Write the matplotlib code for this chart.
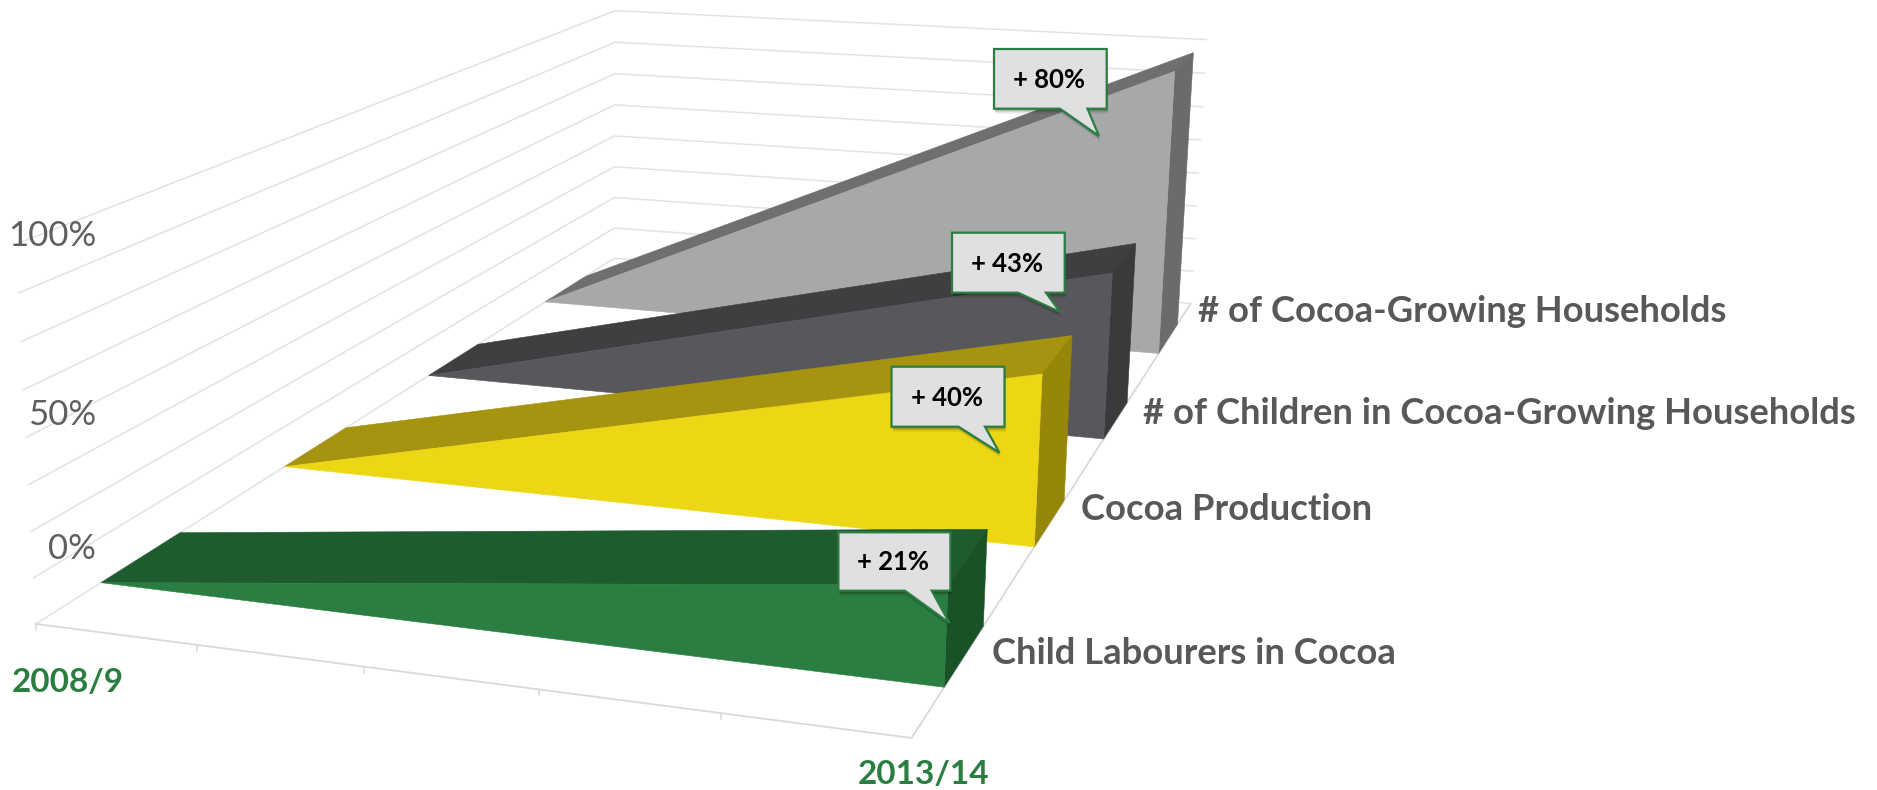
import numpy as np
import matplotlib
matplotlib.use("Agg")
import matplotlib.pyplot as plt
from matplotlib.patches import Polygon

# ---------- data ----------
years = ["2008/9", "2013/14"]
year_positions = [0, 5]
series_names = ["Child Labourers in Cocoa", "Cocoa Production",
                "# of Children in Cocoa-Growing Households", "# of Cocoa-Growing Households"]
start_values = [0, 0, 0, 0]
end_values = [21, 40, 43, 80]
callout_labels = ["+ 21%", "+ 40%", "+ 43%", "+ 80%"]
axis_labels = ["0%", "50%", "100%"]
grid_levels = [0, 10, 20, 30, 40, 50, 60, 70, 80]
n_periods = 5
n_series = 4

# ---------- style ----------
front_colors = ["#2b7e41", "#ecd715", "#58585c", "#a7a8aa"]
top_colors = ["#1e5b2f", "#a6930f", "#3f3f41", "#6e706f"]
end_colors = ["#1a5228", "#968609", "#3a3a3c", "#696b6d"]
band_depth = 0.40
grid_color = "#e2e2e2"
axis_color = "#d9d9d9"
text_gray = "#58585a"
green = "#2b7e41"

# ---------- camera: chart space (period, series, percent) -> picture pixels ----------
cam_world = np.array([[0, 0, 0], [1, 0, 0], [1, 1, 0], [0, 1, 0],
                      [0, 0, 1], [0, 1, 1], [1, 1, 1]], float)
cam_pixel = np.array([[36, 625], [911, 738], [1190.6, 303], [614.5, 258],
                      [16, 243], [614.5, 11], [1207, 40]], float)
rows = []
for (X, Y, Z), (u, v) in zip(cam_world, cam_pixel):
    rows.append([X, Y, Z, 1, 0, 0, 0, 0, -u * X, -u * Y, -u * Z, -u])
    rows.append([0, 0, 0, 0, X, Y, Z, 1, -v * X, -v * Y, -v * Z, -v])
_, _, vt = np.linalg.svd(np.array(rows))
CAM = vt[-1].reshape(3, 4)


def project(period, series, pct):
    p = CAM @ np.array([period / n_periods, series / n_series, pct / 80.0, 1.0])
    return p[0] / p[2], p[1] / p[2]


plt.rcParams["font.family"] = ["Lato", "DejaVu Sans"]
fig = plt.figure(figsize=(18.77, 7.90), dpi=100, facecolor="white")
ax = fig.add_axes([0, 0, 1, 1])
ax.set_xlim(0, 1877)
ax.set_ylim(790, 0)
ax.axis("off")

# ---------- walls and floor ----------
for lv in grid_levels:
    pts = [project(0, 0, lv), project(0, n_series, lv), project(n_periods, n_series, lv)]
    ax.plot(*zip(*pts), color=grid_color, lw=1.1, zorder=1)
pts = [project(0, 0, 0), project(n_periods, 0, 0), project(n_periods, n_series, 0)]
ax.plot(*zip(*pts), color=axis_color, lw=1.3, zorder=1)
for t in range(n_periods):
    x, y = project(t, 0, 0)
    ax.plot([x, x], [y, y + 6], color=axis_color, lw=1.1, zorder=1)

# ---------- prisms, back to front ----------
for i in reversed(range(n_series)):
    d0 = i + 0.5 - band_depth / 2
    d1 = i + 0.5 + band_depth / 2
    x0, x1 = year_positions
    v0, v1 = start_values[i], end_values[i]
    z = 10 + (n_series - i)
    top = [project(x0, d0, v0), project(x1, d0, v1), project(x1, d1, v1), project(x0, d1, v0)]
    end = [project(x1, d0, 0), project(x1, d0, v1), project(x1, d1, v1), project(x1, d1, 0)]
    front = [project(x0, d0, 0), project(x1, d0, 0), project(x1, d0, v1), project(x0, d0, v0)]
    for poly, col in ((top, top_colors[i]), (end, end_colors[i]), (front, front_colors[i])):
        ax.add_patch(Polygon(poly, closed=True, fc=col, ec=col, lw=0.4, zorder=z))

# ---------- callouts ----------
callout_boxes = [(838.4, 532.3, 950.4, 590.7, 905, 931.7, 949.5, 623),
                 (891.5, 366.7, 1004.5, 426.7, 958.5, 985, 999.5, 452.7),
                 (952, 232.7, 1064.7, 292.7, 1018, 1046, 1060, 312),
                 (994, 49, 1106.7, 108.7, 1060, 1087.5, 1099, 136)]
for lab, (l, t, r, b, ta, tb, tx, ty) in zip(callout_labels, callout_boxes):
    outline = [(l, t), (r, t), (r, b), (tb, b), (tx, ty), (ta, b), (l, b)]
    for k, a in ((5, 0.07), (3.5, 0.12), (2, 0.18)):
        shadow = [(px + k * 0.3, py + k) for px, py in outline]
        ax.add_patch(Polygon(shadow, closed=True, fc="black", ec="none", alpha=a, zorder=30))
    ax.add_patch(Polygon(outline, closed=True, fc="#e0e0e0", ec=green, lw=1.6, zorder=31,
                         joinstyle="miter"))
    ax.text((l + r) / 2 - 1, (t + b) / 2 + 1, lab, ha="center", va="center", fontsize=18.5,
            fontweight="bold", color="black", zorder=32)

# ---------- texts ----------
for lab, y in zip(axis_labels, [549, 415, 236]):
    ax.text(96, y, lab, ha="right", va="center", fontsize=25, color="#5f5f61",
            fontweight="normal", zorder=40)
ax.text(12, 683, years[0], ha="left", va="center", fontsize=24, fontweight="bold",
        color=green, zorder=40)
ax.text(858, 775, years[1], ha="left", va="center", fontsize=24, fontweight="bold",
        color=green, zorder=40)
for name, (x, y) in zip(series_names, [(992, 654), (1081, 510), (1143, 413), (1198, 311)]):
    ax.text(x, y, name, ha="left", va="center", fontsize=26.2, fontweight="bold",
            color=text_gray, zorder=40)

fig.savefig("out.png", dpi=100, facecolor="white")
